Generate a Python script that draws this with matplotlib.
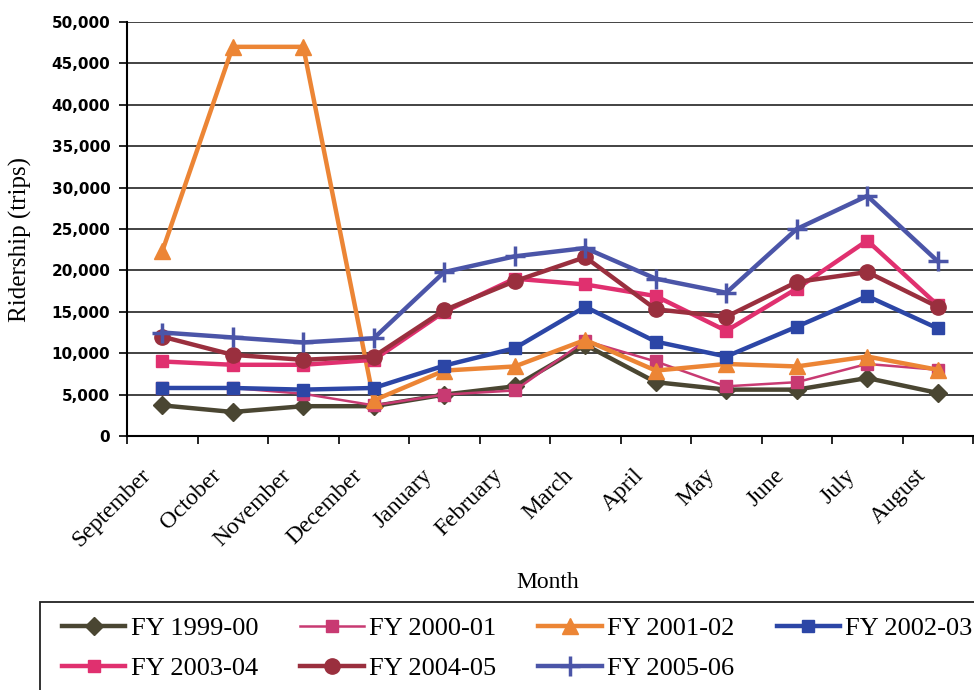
import numpy as np
import matplotlib
matplotlib.use("Agg")
from matplotlib import pyplot as plt
from matplotlib import transforms
from matplotlib.patches import Rectangle
from matplotlib.ticker import FuncFormatter, MultipleLocator

## Data ##
months = ["September", "October", "November", "December", "January", "February",
          "March", "April", "May", "June", "July", "August"]
fy_1999_00 = [3700, 2900, 3600, 3600, 5000, 6000, 11000, 6500, 5600, 5600, 7000, 5200]
fy_2000_01 = [5800, 5800, 5100, 3700, 5000, 5500, 11500, 9000, 6000, 6500, 8700, 8000]
fy_2001_02 = [22300, 47000, 47000, 4300, 7900, 8400, 11600, 7900, 8700, 8400, 9600, 8000]
fy_2002_03 = [5800, 5800, 5600, 5800, 8500, 10600, 15600, 11400, 9600, 13200, 16900, 13000]
fy_2003_04 = [9000, 8600, 8600, 9200, 15000, 19000, 18300, 16900, 12700, 17800, 23600, 15800]
fy_2004_05 = [12000, 9800, 9200, 9600, 15200, 18700, 21600, 15300, 14400, 18600, 19800, 15600]
fy_2005_06 = [12500, 11900, 11300, 11800, 19800, 21700, 22700, 19000, 17300, 25000, 29000, 21100]
series_names = ["FY 1999-00", "FY 2000-01", "FY 2001-02", "FY 2002-03",
                "FY 2003-04", "FY 2004-05", "FY 2005-06"]

# style for each series: colour, marker, marker size, line width
styles = [
    ("#4a4632", "D", 9, 3.2),
    ("#c83a72", "s", 9, 1.8),
    ("#ec8535", "^", 11, 3.2),
    ("#2c46a6", "s", 9, 3.2),
    ("#e0306f", "s", 9, 3.2),
    ("#9a2f3e", "o", 11, 3.2),
    ("#4b55a8", "+", 14, 3.2),
]

serif = "Liberation Serif"

fig = plt.figure(figsize=(9.74, 6.9), dpi=100)
ax = fig.add_axes([127 / 974, 1 - 436 / 690, 846 / 974, 414 / 690])

x = np.arange(len(months))
all_series = [fy_1999_00, fy_2000_01, fy_2001_02, fy_2002_03, fy_2003_04, fy_2004_05, fy_2005_06]
handles = []
for data, name, (color, marker, ms, lw) in zip(all_series, series_names, styles):
    mew = 2.5 if marker == "+" else 1
    h, = ax.plot(x, data, color=color, lw=lw, marker=marker, markersize=ms,
                 markeredgewidth=mew, markeredgecolor=color, label=name)
    handles.append(h)

ax.set_xlim(-0.5, len(months) - 0.5)
ax.set_ylim(0, 50000)
ax.yaxis.set_major_locator(MultipleLocator(5000))
ax.yaxis.set_major_formatter(FuncFormatter(lambda v, p: f"{int(v):,}"))
ax.grid(axis="y", color="#222222", lw=1.2)
ax.set_axisbelow(True)

ax.set_xticks(x)
ax.set_xticklabels(months, rotation=45, ha="right", va="center",
                   rotation_mode="anchor", family=serif, fontsize=17)
ax.set_xticks(np.arange(-0.5, len(months), 1), minor=True)
ax.tick_params(axis="x", which="major", length=0, pad=26)
ax.tick_params(axis="x", which="minor", length=6, width=1.2, direction="out")
ax.tick_params(axis="y", length=6, width=1.2, direction="out", pad=6)
shift = transforms.ScaledTranslation(-15 / 100, 0, fig.dpi_scale_trans)
for lab in ax.get_xticklabels():
    lab.set_transform(lab.get_transform() + shift)
for lab in ax.get_yticklabels():
    lab.set_family("DejaVu Sans")
    lab.set_weight("bold")
    lab.set_fontsize(11)

for side in ["top", "right"]:
    ax.spines[side].set_visible(False)
ax.spines["left"].set_linewidth(1.5)
ax.spines["bottom"].set_linewidth(1.5)

fig.text(20 / 974, 1 - 239 / 690, "Ridership (trips)", rotation=90, va="center",
         ha="center", family=serif, fontsize=18)
fig.text(548 / 974, 1 - 583 / 690, "Month", ha="center", va="center",
         family=serif, fontsize=17)

# legend box runs off the right and bottom edges
fig.patches.append(Rectangle((40 / 974, -0.1), 1.0, 0.1 + 1 - 602 / 690,
                             transform=fig.transFigure, fill=False,
                             edgecolor="#222222", lw=1.3))
# fill row by row
order = [0, 4, 1, 5, 2, 6, 3]
leg = fig.legend([handles[i] for i in order], [series_names[i] for i in order],
                 loc="upper left", bbox_to_anchor=(62 / 974, 1 - 617 / 690),
                 ncol=4, frameon=False, prop={"family": serif, "size": 19},
                 handlelength=2.4, handletextpad=0.2, columnspacing=1.6,
                 borderpad=0, borderaxespad=0, labelspacing=0.6)

plt.savefig("out.png", dpi=100)
plt.close()
